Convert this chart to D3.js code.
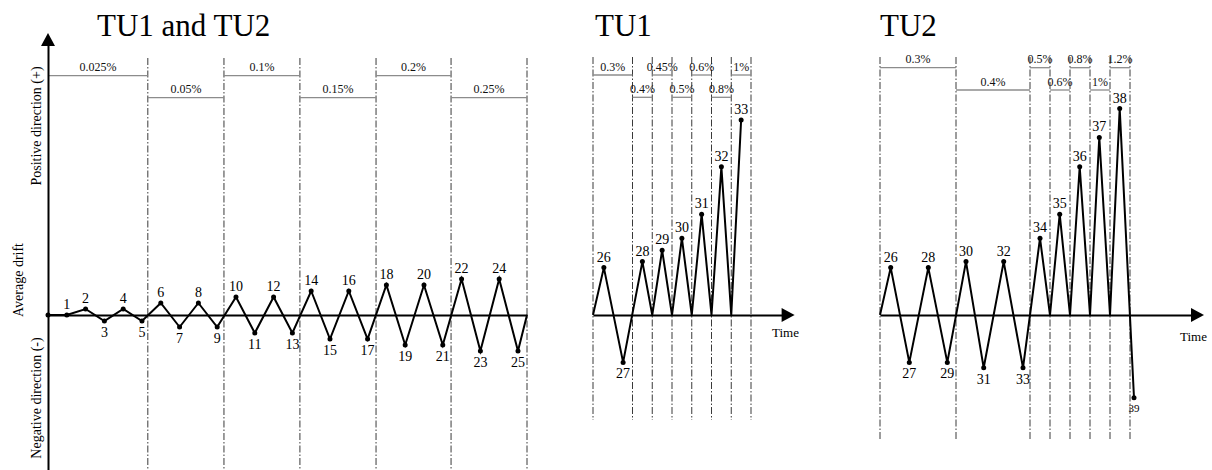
<!DOCTYPE html>
<html>
<head>
<meta charset="utf-8">
<script src="https://cdnjs.cloudflare.com/ajax/libs/d3/7.8.5/d3.min.js"></script>
<style>
    body { margin: 0; background: #fff; }
    svg { display: block; font-family: 'Liberation Serif', 'Times New Roman', serif; }
</style>
</head>
<body>
<div id="chart"></div>
<script>
// --- data (time in steps, drift in arbitrary units, + up) ---

// TU1 and TU2: steps 1..25
const leftIds = d3.range(1, 26);
const leftTime = d3.range(1, 26);
const leftDrift = [0, 1, -1, 1, -1, 2, -2, 2, -2, 3, -3, 3, -3, 4, -4, 4, -4, 5, -5, 5, -5, 6, -6, 6, -6];
const leftBounds = [0, 5.31, 9.36, 13.4, 17.45, 21.44, 25.48];
const leftRates = ['0.025%', '0.05%', '0.1%', '0.15%', '0.2%', '0.25%'];

// TU1: steps 26..33 (null id = return to zero)
const midIds = [null, 26, 27, 28, null, 29, null, 30, null, 31, null, 32, null, 33];
const midTime = [0, 1.1, 3.05, 5, 6, 7, 8, 9, 10, 11, 12, 13, 14, 15];
const midDrift = [0, 7.9, -7.9, 8.9, 0, 10.8, 0, 12.8, 0, 16.8, 0, 24.7, 0, 32.5];
const midBounds = [0, 4, 6, 8, 10, 12, 14, 16];
const midRates = ['0.3%', '0.4%', '0.45%', '0.5%', '0.6%', '0.8%', '1%'];

// TU2: steps 26..39
const rightIds = [null, 26, 27, 28, 29, 30, 31, 32, 33, null, 34, null, 35, null, 36, null, 37, null, 38, 39];
const rightTime = [0, 1.07, 2.93, 4.83, 6.73, 8.6, 10.37, 12.37, 14.3, 15, 16, 17, 17.97, 19, 19.97, 21, 21.93, 23, 23.97, 25.4];
const rightDrift = [0, 7.9, -7.9, 7.9, -7.9, 8.9, -8.8, 8.9, -8.8, 0, 12.8, 0, 16.8, 0, 24.7, 0, 29.6, 0, 34.4, -13.8];
const rightBounds = [0, 7.6, 15, 17, 19, 21, 23, 25];
const rightRates = ['0.3%', '0.4%', '0.5%', '0.6%', '0.8%', '1%', '1.2%'];

const width = 1212;
const height = 470;

// shared vertical scale (zero line at the same height in every panel)
const scaleY = d3.scaleLinear().domain([-26, 47]).range([471, 33]);

const zip = (ids, time, drift) => time.map((t, i) => ({ id: ids[i], t, v: drift[i] }));

const panels = [
    {
        title: 'TU1 and TU2', titleX: 97,
        range: [48, 527], domain: [0, 25.48],
        points: [{ id: null, t: 0, v: 0 }, ...zip(leftIds, leftTime, leftDrift), { id: null, t: 25.48, v: 0 }],
        bounds: leftBounds, rates: leftRates, rateY: [75.7, 97.7],
        lineTop: 58, lineBottom: 470, firstLine: false, axisEnd: 25.48, arrow: false,
    },
    {
        title: 'TU1', titleX: 595,
        range: [593, 751], domain: [0, 16],
        points: zip(midIds, midTime, midDrift),
        bounds: midBounds, rates: midRates, rateY: [75, 97.3],
        lineTop: 57, lineBottom: 420, firstLine: true, axisEnd: 19.1, arrow: true, timeX: 772, timeY: 337,
    },
    {
        title: 'TU2', titleX: 880,
        range: [880, 1130], domain: [0, 25],
        points: zip(rightIds, rightTime, rightDrift),
        bounds: rightBounds, rates: rightRates, rateY: [67.7, 90],
        lineTop: 57, lineBottom: 440, firstLine: true, axisEnd: 31.1, arrow: true, timeX: 1180, timeY: 341,
    },
];

const $svg = d3.select('#chart').append('svg')
    .attr('width', width)
    .attr('height', height);

panels.forEach(p => {
    const scaleX = d3.scaleLinear().domain(p.domain).range(p.range);
    const $g = $svg.append('g');
    const y0 = scaleY(0);

    // title
    $g.append('text')
        .attr('x', p.titleX).attr('y', 36)
        .attr('font-size', 31)
        .text(p.title);

    // dash-dot boundaries between loading rates
    $g.selectAll('.bound')
        .data(p.firstLine ? p.bounds : p.bounds.slice(1))
        .join('line')
        .attr('x1', d => scaleX(d)).attr('x2', d => scaleX(d))
        .attr('y1', p.lineTop).attr('y2', p.lineBottom)
        .attr('stroke', '#3a3a3a')
        .attr('stroke-width', 1)
        .attr('stroke-dasharray', '7,2,1.5,2');

    // rate brackets, alternating rows
    const rateData = p.rates.map((r, i) => ({ r, a: p.bounds[i], b: p.bounds[i + 1], row: i % 2 }));
    $g.selectAll('.rate-line')
        .data(rateData)
        .join('line')
        .attr('x1', d => scaleX(d.a)).attr('x2', d => scaleX(d.b))
        .attr('y1', d => p.rateY[d.row]).attr('y2', d => p.rateY[d.row])
        .attr('stroke', '#8c8c8c')
        .attr('stroke-width', 1.3);
    $g.selectAll('.rate-text')
        .data(rateData)
        .join('text')
        .attr('x', d => (scaleX(d.a) + scaleX(d.b)) / 2)
        .attr('y', d => p.rateY[d.row] - 4.5)
        .attr('text-anchor', 'middle')
        .attr('font-size', 12)
        .attr('fill', '#111')
        .text(d => d.r);

    // time axis (no ticks) along zero drift
    const axisScale = d3.scaleLinear().domain([0, p.axisEnd]).range([scaleX(0), scaleX(p.axisEnd)]);
    $g.append('g')
        .attr('transform', `translate(0,${y0})`)
        .call(d3.axisBottom(axisScale).tickValues([]).tickSizeOuter(0))
        .call(g => g.select('.domain').attr('stroke', '#000').attr('stroke-width', 2));

    if (p.arrow) {
        const xe = scaleX(p.axisEnd);
        $g.append('path')
            .attr('d', `M${xe},${y0 - 7}L${xe + 13},${y0}L${xe},${y0 + 7}Z`)
            .attr('fill', '#000');
        $g.append('text')
            .attr('x', p.timeX).attr('y', p.timeY)
            .attr('font-size', 13)
            .text('Time');
    }

    // drift history
    const line = d3.line().x(d => scaleX(d.t)).y(d => scaleY(d.v));
    $g.append('path')
        .datum(p.points)
        .attr('d', line)
        .attr('fill', 'none')
        .attr('stroke', '#000')
        .attr('stroke-width', 2)
        .attr('stroke-linejoin', 'miter');

    const labelled = p.points.filter(d => d.id !== null);
    $g.selectAll('.dot')
        .data(labelled)
        .join('circle')
        .attr('cx', d => scaleX(d.t)).attr('cy', d => scaleY(d.v))
        .attr('r', 2.5)
        .attr('fill', '#000');

    $g.selectAll('.lbl')
        .data(labelled)
        .join('text')
        .attr('x', d => scaleX(d.t))
        .attr('y', d => {
            if (d.id === 39) return scaleY(d.v) + 14;
            return d.v < 0 ? scaleY(d.v) + 16 : scaleY(d.v) - 6;
        })
        .attr('text-anchor', 'middle')
        .attr('font-size', d => (d.id === 39 ? 11 : 14))
        .text(d => d.id);
});

// left drift axis with arrow
const $axisY = $svg.append('g').attr('transform', 'translate(48,0)');
const yAxisScale = scaleY.copy().domain([-26, 45]).range([471, scaleY(45)]);
$axisY.call(d3.axisLeft(yAxisScale).tickValues([]).tickSizeOuter(0))
    .call(g => g.select('.domain').attr('stroke', '#000').attr('stroke-width', 2));
$axisY.append('path')
    .attr('d', `M-7,${scaleY(45) + 1}L0,${scaleY(47)}L7,${scaleY(45) + 1}Z`)
    .attr('fill', '#000');
$axisY.append('circle')
    .attr('cx', 0).attr('cy', scaleY(0))
    .attr('r', 2.5)
    .attr('fill', '#000');
$axisY.append('text')
    .attr('x', -6).attr('y', scaleY(0) - 2)
    .attr('text-anchor', 'end')
    .attr('font-size', 14)
    .text('0');

// rotated axis titles
const yTitles = [
    { text: 'Positive direction (+)', x: 41, y: 126 },
    { text: 'Average drift', x: 23, y: 280 },
    { text: 'Negative direction (-)', x: 41, y: 398 },
];
$svg.selectAll('.ytitle')
    .data(yTitles)
    .join('text')
    .attr('transform', d => `translate(${d.x},${d.y}) rotate(-90)`)
    .attr('text-anchor', 'middle')
    .attr('font-size', 14)
    .text(d => d.text);
</script>
</body>
</html>
